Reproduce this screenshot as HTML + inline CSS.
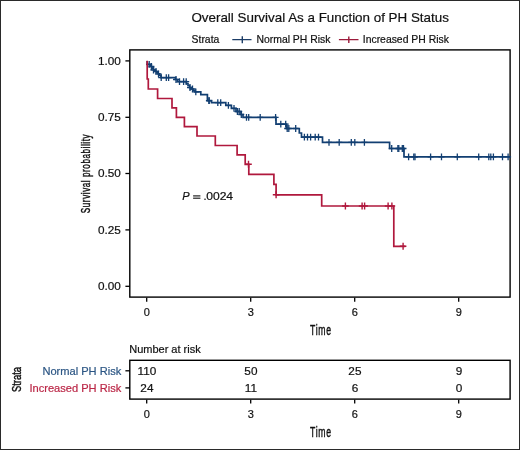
<!DOCTYPE html>
<html><head><meta charset="utf-8"><style>
html,body{margin:0;padding:0;background:#fff;}
body{width:520px;height:450px;overflow:hidden;}
svg{display:block;will-change:transform;}
text{font-family:"Liberation Sans",sans-serif;fill:#111;}
.t11{font-size:11px;stroke:#111;stroke-width:0.2px;}
.t13{font-size:13px;}
.t14{font-size:14px;}
.cd{stroke:#111;stroke-width:0.45px;}
</style></head><body>
<svg width="520" height="450" viewBox="0 0 520 450">
<rect x="0" y="0" width="520" height="450" fill="#fff"/>
<rect x="0.5" y="0.5" width="519" height="449" fill="none" stroke="#2a2a2a" stroke-width="1"/>
<rect x="129.8" y="49.9" width="380.3" height="247.2" fill="none" stroke="#000" stroke-width="1.4"/>
<line x1="125.4" y1="60.9" x2="129.8" y2="60.9" stroke="#000" stroke-width="1.3"/>
<text transform="translate(120.8,64.6) scale(1.07,1)" text-anchor="end" class="t11">1.00</text>
<line x1="125.4" y1="117.3" x2="129.8" y2="117.3" stroke="#000" stroke-width="1.3"/>
<text transform="translate(120.8,121.0) scale(1.07,1)" text-anchor="end" class="t11">0.75</text>
<line x1="125.4" y1="173.5" x2="129.8" y2="173.5" stroke="#000" stroke-width="1.3"/>
<text transform="translate(120.8,177.2) scale(1.07,1)" text-anchor="end" class="t11">0.50</text>
<line x1="125.4" y1="229.9" x2="129.8" y2="229.9" stroke="#000" stroke-width="1.3"/>
<text transform="translate(120.8,233.6) scale(1.07,1)" text-anchor="end" class="t11">0.25</text>
<line x1="125.4" y1="286.3" x2="129.8" y2="286.3" stroke="#000" stroke-width="1.3"/>
<text transform="translate(120.8,290.0) scale(1.07,1)" text-anchor="end" class="t11">0.00</text>
<line x1="146.7" y1="297.8" x2="146.7" y2="301.8" stroke="#000" stroke-width="1.3"/>
<text x="146.7" y="316" text-anchor="middle" class="t11">0</text>
<line x1="250.7" y1="297.8" x2="250.7" y2="301.8" stroke="#000" stroke-width="1.3"/>
<text x="250.7" y="316" text-anchor="middle" class="t11">3</text>
<line x1="354.7" y1="297.8" x2="354.7" y2="301.8" stroke="#000" stroke-width="1.3"/>
<text x="354.7" y="316" text-anchor="middle" class="t11">6</text>
<line x1="458.7" y1="297.8" x2="458.7" y2="301.8" stroke="#000" stroke-width="1.3"/>
<text x="458.7" y="316" text-anchor="middle" class="t11">9</text>
<text transform="translate(320.9,335.1) scale(0.62,1)" text-anchor="middle" class="t14 cd" style="letter-spacing:1.1px">Time</text>
<text transform="translate(89.8,173.5) rotate(-90) scale(0.62,1)" text-anchor="middle" class="t13 cd" style="letter-spacing:0.95px">Survival probability</text>
<path d="M147.2,61 H147.2 V64.3 H150.5 V66.5 H152 V68.3 H153.5 V70 H155 V71.3 H156.5 V72.5 H158 V73.8 H159.5 V75.3 H161 V77.6 H175.5 V79.5 H177.5 V81.6 H186.5 V83.5 H188 V85.5 H189.5 V87.5 H191 V89 H193 V90.5 H195 V91.8 H200.8 V94.6 H207.4 V100.7 H211.5 V102.6 H225.8 V105.4 H231.4 V108.4 H236 V111.5 H241 V114.5 H243 V117.4 H276 V124.2 H286.5 V128.5 H299.3 V133 H301.5 V137.2 H322.5 V142.3 H389.6 V148.5 H404 V156.9 H510 V156.9" fill="none" stroke="#123f72" stroke-width="1.7"/>
<path d="M149.2,60.9 V67.7 M146.2,64.3 H152.2" stroke="#123f72" stroke-width="1.3"/>
<path d="M151.4,63.1 V69.9 M148.4,66.5 H154.4" stroke="#123f72" stroke-width="1.3"/>
<path d="M153.5,66.6 V73.4 M150.5,70 H156.5" stroke="#123f72" stroke-width="1.3"/>
<path d="M156,67.89999999999999 V74.7 M153,71.3 H159" stroke="#123f72" stroke-width="1.3"/>
<path d="M158.5,70.39999999999999 V77.2 M155.5,73.8 H161.5" stroke="#123f72" stroke-width="1.3"/>
<path d="M161.2,74.19999999999999 V81.0 M158.2,77.6 H164.2" stroke="#123f72" stroke-width="1.3"/>
<path d="M166.3,74.19999999999999 V81.0 M163.3,77.6 H169.3" stroke="#123f72" stroke-width="1.3"/>
<path d="M168.6,74.19999999999999 V81.0 M165.6,77.6 H171.6" stroke="#123f72" stroke-width="1.3"/>
<path d="M176,76.1 V82.9 M173,79.5 H179" stroke="#123f72" stroke-width="1.3"/>
<path d="M179.5,78.19999999999999 V85.0 M176.5,81.6 H182.5" stroke="#123f72" stroke-width="1.3"/>
<path d="M183.6,78.19999999999999 V85.0 M180.6,81.6 H186.6" stroke="#123f72" stroke-width="1.3"/>
<path d="M186.2,78.19999999999999 V85.0 M183.2,81.6 H189.2" stroke="#123f72" stroke-width="1.3"/>
<path d="M190,84.1 V90.9 M187,87.5 H193" stroke="#123f72" stroke-width="1.3"/>
<path d="M192.5,85.6 V92.4 M189.5,89 H195.5" stroke="#123f72" stroke-width="1.3"/>
<path d="M195.8,88.39999999999999 V95.2 M192.8,91.8 H198.8" stroke="#123f72" stroke-width="1.3"/>
<path d="M208.9,97.3 V104.10000000000001 M205.9,100.7 H211.9" stroke="#123f72" stroke-width="1.3"/>
<path d="M209.2,97.3 V104.10000000000001 M206.2,100.7 H212.2" stroke="#123f72" stroke-width="1.3"/>
<path d="M217.8,99.19999999999999 V106.0 M214.8,102.6 H220.8" stroke="#123f72" stroke-width="1.3"/>
<path d="M220.7,99.19999999999999 V106.0 M217.7,102.6 H223.7" stroke="#123f72" stroke-width="1.3"/>
<path d="M228.4,102.0 V108.80000000000001 M225.4,105.4 H231.4" stroke="#123f72" stroke-width="1.3"/>
<path d="M234,105.0 V111.80000000000001 M231,108.4 H237" stroke="#123f72" stroke-width="1.3"/>
<path d="M237.4,108.1 V114.9 M234.4,111.5 H240.4" stroke="#123f72" stroke-width="1.3"/>
<path d="M239.2,108.1 V114.9 M236.2,111.5 H242.2" stroke="#123f72" stroke-width="1.3"/>
<path d="M241.3,111.1 V117.9 M238.3,114.5 H244.3" stroke="#123f72" stroke-width="1.3"/>
<path d="M246.5,114.0 V120.80000000000001 M243.5,117.4 H249.5" stroke="#123f72" stroke-width="1.3"/>
<path d="M248.7,114.0 V120.80000000000001 M245.7,117.4 H251.7" stroke="#123f72" stroke-width="1.3"/>
<path d="M260.2,114.0 V120.80000000000001 M257.2,117.4 H263.2" stroke="#123f72" stroke-width="1.3"/>
<path d="M275.6,114.0 V120.80000000000001 M272.6,117.4 H278.6" stroke="#123f72" stroke-width="1.3"/>
<path d="M280.8,120.8 V127.60000000000001 M277.8,124.2 H283.8" stroke="#123f72" stroke-width="1.3"/>
<path d="M285.7,120.8 V127.60000000000001 M282.7,124.2 H288.7" stroke="#123f72" stroke-width="1.3"/>
<path d="M287.2,125.1 V131.9 M284.2,128.5 H290.2" stroke="#123f72" stroke-width="1.3"/>
<path d="M288.8,125.1 V131.9 M285.8,128.5 H291.8" stroke="#123f72" stroke-width="1.3"/>
<path d="M295.7,125.1 V131.9 M292.7,128.5 H298.7" stroke="#123f72" stroke-width="1.3"/>
<path d="M304.4,133.79999999999998 V140.6 M301.4,137.2 H307.4" stroke="#123f72" stroke-width="1.3"/>
<path d="M307.5,133.79999999999998 V140.6 M304.5,137.2 H310.5" stroke="#123f72" stroke-width="1.3"/>
<path d="M310.6,133.79999999999998 V140.6 M307.6,137.2 H313.6" stroke="#123f72" stroke-width="1.3"/>
<path d="M315.2,133.79999999999998 V140.6 M312.2,137.2 H318.2" stroke="#123f72" stroke-width="1.3"/>
<path d="M318.5,133.79999999999998 V140.6 M315.5,137.2 H321.5" stroke="#123f72" stroke-width="1.3"/>
<path d="M329,138.9 V145.70000000000002 M326,142.3 H332" stroke="#123f72" stroke-width="1.3"/>
<path d="M339.2,138.9 V145.70000000000002 M336.2,142.3 H342.2" stroke="#123f72" stroke-width="1.3"/>
<path d="M351.3,138.9 V145.70000000000002 M348.3,142.3 H354.3" stroke="#123f72" stroke-width="1.3"/>
<path d="M354.8,138.9 V145.70000000000002 M351.8,142.3 H357.8" stroke="#123f72" stroke-width="1.3"/>
<path d="M364.4,138.9 V145.70000000000002 M361.4,142.3 H367.4" stroke="#123f72" stroke-width="1.3"/>
<path d="M391.7,145.1 V151.9 M388.7,148.5 H394.7" stroke="#123f72" stroke-width="1.3"/>
<path d="M397.9,145.1 V151.9 M394.9,148.5 H400.9" stroke="#123f72" stroke-width="1.3"/>
<path d="M398.8,145.1 V151.9 M395.8,148.5 H401.8" stroke="#123f72" stroke-width="1.3"/>
<path d="M402.3,145.1 V151.9 M399.3,148.5 H405.3" stroke="#123f72" stroke-width="1.3"/>
<path d="M403.5,145.1 V151.9 M400.5,148.5 H406.5" stroke="#123f72" stroke-width="1.3"/>
<path d="M408.6,153.5 V160.3 M405.6,156.9 H411.6" stroke="#123f72" stroke-width="1.3"/>
<path d="M413.8,153.5 V160.3 M410.8,156.9 H416.8" stroke="#123f72" stroke-width="1.3"/>
<path d="M415,153.5 V160.3 M412,156.9 H418" stroke="#123f72" stroke-width="1.3"/>
<path d="M430.6,153.5 V160.3 M427.6,156.9 H433.6" stroke="#123f72" stroke-width="1.3"/>
<path d="M441.5,153.5 V160.3 M438.5,156.9 H444.5" stroke="#123f72" stroke-width="1.3"/>
<path d="M457.3,153.5 V160.3 M454.3,156.9 H460.3" stroke="#123f72" stroke-width="1.3"/>
<path d="M478.7,153.5 V160.3 M475.7,156.9 H481.7" stroke="#123f72" stroke-width="1.3"/>
<path d="M488.8,153.5 V160.3 M485.8,156.9 H491.8" stroke="#123f72" stroke-width="1.3"/>
<path d="M490.8,153.5 V160.3 M487.8,156.9 H493.8" stroke="#123f72" stroke-width="1.3"/>
<path d="M493.4,153.5 V160.3 M490.4,156.9 H496.4" stroke="#123f72" stroke-width="1.3"/>
<path d="M502.5,153.5 V160.3 M499.5,156.9 H505.5" stroke="#123f72" stroke-width="1.3"/>
<path d="M508.1,153.5 V160.3 M505.1,156.9 H511.1" stroke="#123f72" stroke-width="1.3"/>
<path d="M147.2,60.8 H147.2 V79 H148 V79 H148.3 V89 H157.6 V98.5 H172 V107.9 H176.4 V117.3 H184.4 V126.7 H197 V136 H215.3 V145.5 H237.1 V154.8 H245.2 V164.3 H248.8 V174.3 H273.9 V184.4 H276.1 V194.8 H321.7 V206 H393.8 V246.3 H405.4 V246.3" fill="none" stroke="#b0183d" stroke-width="1.7"/>
<path d="M248.5,160.8 V167.8 M245.2,164.3 H251.8" stroke="#b0183d" stroke-width="1.4"/>
<path d="M276.1,191.3 V198.3 M272.8,194.8 H279.40000000000003" stroke="#b0183d" stroke-width="1.4"/>
<path d="M345.4,202.5 V209.5 M342.09999999999997,206 H348.7" stroke="#b0183d" stroke-width="1.4"/>
<path d="M362.1,202.5 V209.5 M358.8,206 H365.40000000000003" stroke="#b0183d" stroke-width="1.4"/>
<path d="M364.6,202.5 V209.5 M361.3,206 H367.90000000000003" stroke="#b0183d" stroke-width="1.4"/>
<path d="M388.1,202.5 V209.5 M384.8,206 H391.40000000000003" stroke="#b0183d" stroke-width="1.4"/>
<path d="M391.9,202.5 V209.5 M388.59999999999997,206 H395.2" stroke="#b0183d" stroke-width="1.4"/>
<path d="M403.1,242.8 V249.8 M399.8,246.3 H406.40000000000003" stroke="#b0183d" stroke-width="1.4"/>
<text x="182.2" y="200.3" class="t11" style="font-style:italic">P</text>
<rect x="193.1" y="195.3" width="7.3" height="1.2" fill="#222"/><rect x="193.1" y="197.6" width="7.3" height="1.2" fill="#222"/>
<text x="203.4" y="200.3" class="t11">.</text>
<text transform="translate(206.2,200.3) scale(1.1,1)" class="t11">0024</text>
<text x="191.4" y="21.6" class="t13" style="font-size:13.4px;stroke:#111;stroke-width:0.2px">Overall Survival As a Function of PH Status</text>
<text x="191.6" y="42.6" class="t11" style="font-size:10.4px">Strata</text>
<path d="M232.3,39.6 H251.5 M242.3,36.3 V43.2" stroke="#1c3d66" stroke-width="1.4"/>
<text x="256.5" y="42.6" class="t11" style="font-size:10.4px">Normal PH Risk</text>
<path d="M338.9,39.6 H358.5 M348.8,36.5 V42.9" stroke="#9c1b3b" stroke-width="1.4"/>
<text x="362.8" y="42.6" class="t11" style="font-size:10.4px">Increased PH Risk</text>
<text x="129.2" y="353" class="t11">Number at risk</text>
<rect x="129.8" y="360.3" width="380.3" height="38.8" fill="none" stroke="#000" stroke-width="1.4"/>
<line x1="125.4" y1="370.8" x2="130" y2="370.8" stroke="#000" stroke-width="1.3"/>
<text x="121.3" y="374.6" text-anchor="end" class="t11" style="fill:#2c5684;stroke:#2c5684;font-size:11.1px">Normal PH Risk</text>
<text transform="translate(146.89999999999998,374.6) scale(1.07,1)" text-anchor="middle" class="t11">110</text>
<text transform="translate(250.89999999999998,374.6) scale(1.07,1)" text-anchor="middle" class="t11">50</text>
<text transform="translate(354.9,374.6) scale(1.07,1)" text-anchor="middle" class="t11">25</text>
<text transform="translate(458.9,374.6) scale(1.07,1)" text-anchor="middle" class="t11">9</text>
<line x1="125.4" y1="387.9" x2="130" y2="387.9" stroke="#000" stroke-width="1.3"/>
<text x="121.3" y="391.7" text-anchor="end" class="t11" style="fill:#bb2747;stroke:#bb2747;font-size:11.1px">Increased PH Risk</text>
<text transform="translate(146.89999999999998,392.0) scale(1.07,1)" text-anchor="middle" class="t11">24</text>
<text transform="translate(250.89999999999998,392.0) scale(1.07,1)" text-anchor="middle" class="t11">11</text>
<text transform="translate(354.9,392.0) scale(1.07,1)" text-anchor="middle" class="t11">6</text>
<text transform="translate(458.9,392.0) scale(1.07,1)" text-anchor="middle" class="t11">0</text>
<line x1="146.7" y1="399.7" x2="146.7" y2="403.5" stroke="#000" stroke-width="1.3"/>
<text x="146.7" y="417.6" text-anchor="middle" class="t11">0</text>
<line x1="250.7" y1="399.7" x2="250.7" y2="403.5" stroke="#000" stroke-width="1.3"/>
<text x="250.7" y="417.6" text-anchor="middle" class="t11">3</text>
<line x1="354.7" y1="399.7" x2="354.7" y2="403.5" stroke="#000" stroke-width="1.3"/>
<text x="354.7" y="417.6" text-anchor="middle" class="t11">6</text>
<line x1="458.7" y1="399.7" x2="458.7" y2="403.5" stroke="#000" stroke-width="1.3"/>
<text x="458.7" y="417.6" text-anchor="middle" class="t11">9</text>
<text transform="translate(320.9,436.9) scale(0.62,1)" text-anchor="middle" class="t14 cd" style="letter-spacing:1.1px">Time</text>
<text transform="translate(21.4,379.5) rotate(-90) scale(0.72,1)" text-anchor="middle" class="t13 cd">Strata</text>
</svg>
</body></html>
